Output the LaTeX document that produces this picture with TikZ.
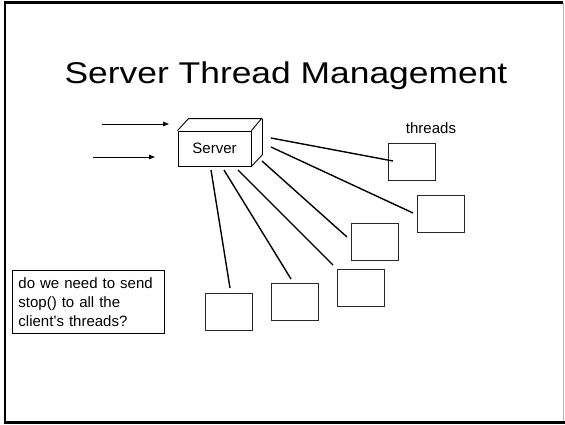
\documentclass[tikz,border=0pt]{standalone}
\usepackage{fontspec}
\setmainfont{Liberation Sans}
\newfontfamily\titlefont[FakeStretch=1.18]{Liberation Sans}
\usetikzlibrary{arrows.meta}
\tikzset{
  tbox/.style={draw=black!85, line width=0.9pt, minimum width=47pt, minimum height=37pt, inner sep=0pt, anchor=north west},
  conn/.style={line width=1.4pt, black},
  inarrow/.style={line width=0.8pt, -{Triangle[length=6pt,width=4.5pt]}},
  small/.style={font=\fontsize{15}{19}\selectfont},
}
\begin{document}
\begin{tikzpicture}[x=1pt,y=-1pt]
\useasboundingbox (0,0) rectangle (565,424);
\fill[white] (0,0) rectangle (565,424);
% slide frame
\draw[line width=2.5pt] (5,2.5) -- (5,422.5);
\draw[line width=2.5pt] (3.5,2.5) -- (563,2.5);
\draw[line width=2.5pt] (3.5,422.5) -- (565,422.5);
\draw[line width=1pt, black!30] (563.5,3) -- (563.5,421);

% title
\node[anchor=base, inner sep=0pt, font=\titlefont\fontsize{30}{30}\selectfont] (title) at (286,83) {Server Thread Management};

% server cuboid
\node[draw, line width=0.9pt, minimum width=73pt, minimum height=35pt, inner sep=0pt, small] (server) at (214.5,148.5) {Server};
\draw[line width=0.9pt, line join=round] (server.north west) -- ++(11,-12) -- ++(73,0) -- (server.north east);
\draw[line width=0.9pt, line join=round] (server.north east) ++(11,-12) -- ++(0,36) -- (server.south east);

% incoming arrows
\coordinate (a1s) at (102,124);
\coordinate (a1e) at (169,124);
\coordinate (a2s) at (93,157);
\coordinate (a2e) at (155,157);
\draw[inarrow] (a1s) -- (a1e);
\draw[inarrow] (a2s) -- (a2e);

% threads label
\node[anchor=base, inner sep=0pt, small] (thlabel) at (431,133) {threads};

% thread boxes
\node[tbox] (t1) at (388,143) {};
\node[tbox] (t2) at (417,195) {};
\node[tbox] (t3) at (351,223) {};
\node[tbox] (t4) at (337,269) {};
\node[tbox] (t5) at (271,283) {};
\node[tbox] (t6) at (205,293) {};

% connector end points
\coordinate (s1) at (271,138); \coordinate (e1) at (393,161);
\coordinate (s2) at (271,147); \coordinate (e2) at (413,213);
\coordinate (s3) at (262,161); \coordinate (e3) at (347,237);
\coordinate (s4) at (238,170); \coordinate (e4) at (333,265);
\coordinate (s5) at (224,170); \coordinate (e5) at (291,279);
\coordinate (s6) at (211,170); \coordinate (e6) at (230,288);
\draw[conn] (s1) -- (e1);
\draw[conn] (s2) -- (e2);
\draw[conn] (s3) -- (e3);
\draw[conn] (s4) -- (e4);
\draw[conn] (s5) -- (e5);
\draw[conn] (s6) -- (e6);

% question box
\node[draw, line width=0.9pt, anchor=north west, text width=140pt, align=left, inner xsep=6pt, inner ysep=4pt, minimum height=63pt, small] (question) at (12,270)
  {do we need to send\\stop() to all the\\client's threads?};
\end{tikzpicture}
\end{document}
